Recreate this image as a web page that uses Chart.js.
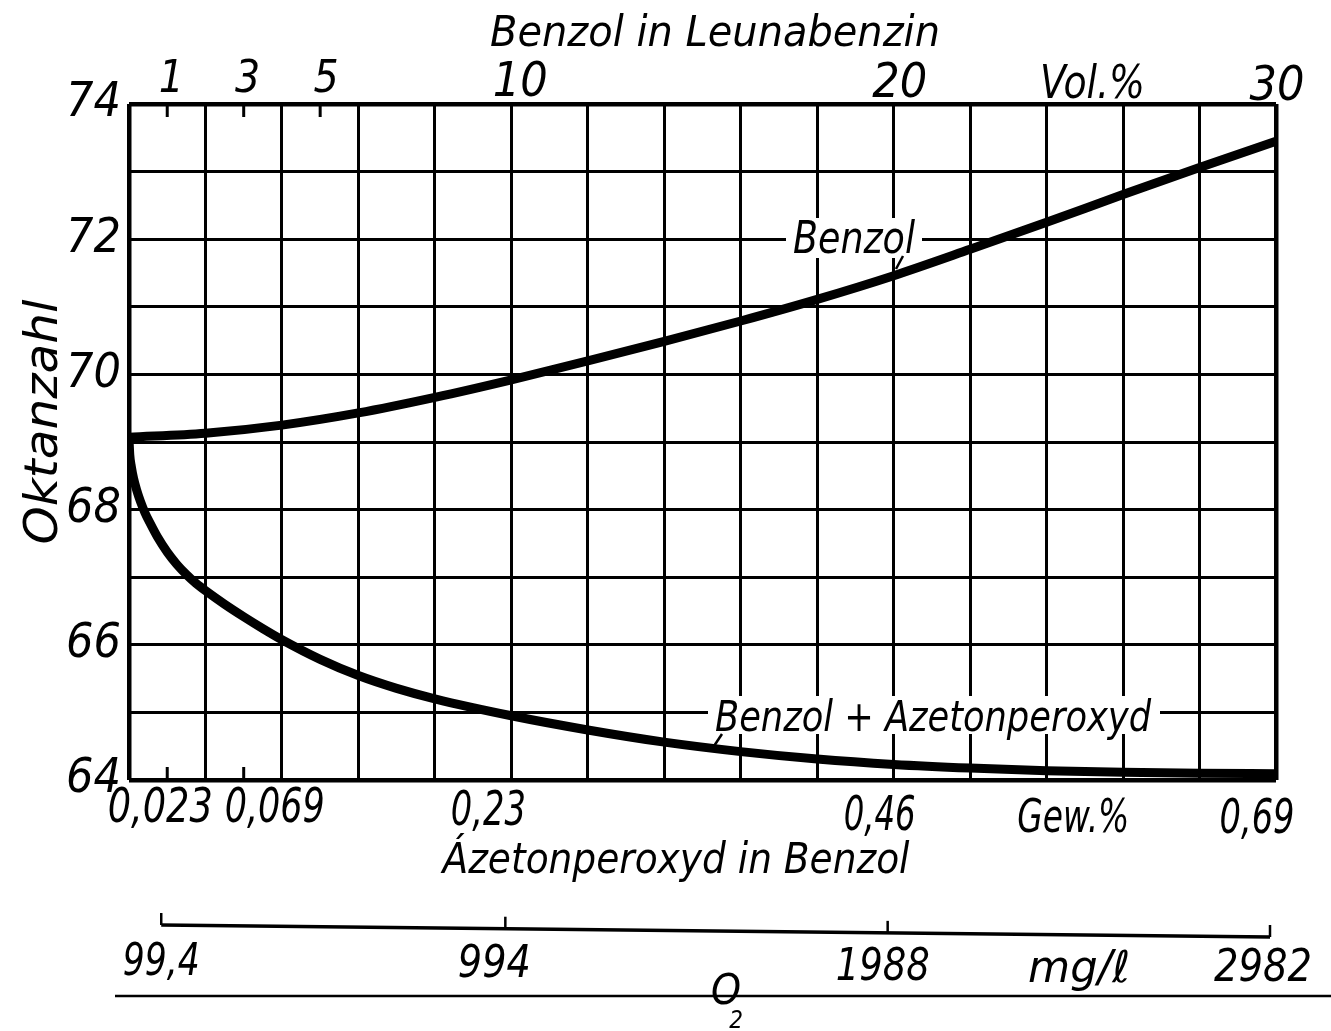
<!DOCTYPE html>
<html>
<head>
<meta charset="utf-8">
<script src="https://cdn.jsdelivr.net/npm/chart.js@4.4.1/dist/chart.umd.min.js"></script>
<style>
html,body{margin:0;padding:0;background:#fff;}
canvas{display:block;}
</style>
</head>
<body>
<canvas id="c" width="1331" height="1031"></canvas>
<script>
// ---------------- DATA ----------------
const benzolX = [0, 2, 4, 6, 8, 10, 12, 14, 16, 18, 20, 22, 24, 26, 28, 30];
const benzolY = [69.07, 69.13, 69.25, 69.43, 69.66, 69.92, 70.2, 70.49, 70.79, 71.11, 71.46, 71.85, 72.25, 72.66, 73.06, 73.45];

const peroxydX = [0, 0.02, 0.06, 0.12, 0.2, 0.3, 0.42, 0.56, 0.75, 1, 1.25, 1.5, 1.75, 2, 2.5, 3, 3.5, 4, 5, 6, 7, 8, 10, 12, 14, 16, 18, 20, 22, 24, 26, 28, 30];
const peroxydY = [69.05, 68.81, 68.64, 68.46, 68.29, 68.12, 67.95, 67.79, 67.59, 67.37, 67.19, 67.04, 66.91, 66.8, 66.6, 66.415, 66.24, 66.075, 65.785, 65.545, 65.355, 65.2, 64.95, 64.74, 64.56, 64.42, 64.31, 64.23, 64.176, 64.138, 64.114, 64.1, 64.094];

const yTickValues = [64, 66, 68, 70, 72, 74];
const topTickValues = [1, 3, 5, 10, 20, 30];
const topTickLabels = ['1', '3', '5', '10', '20', '30'];
const topUnit = 'Vol.%';
const bottomTickValues = [1, 3, 10, 20, 30];
const bottomTickLabels = ['0,023', '0,069', '0,23', '0,46', '0,69'];
const bottomUnit = 'Gew.%';
const o2TickValues = [99.4, 994, 1988, 2982];
const o2TickLabels = ['99,4', '994', '1988', '2982'];
const o2Unit = 'mg/ℓ';
const o2PerVolPercent = 99.4;

const titleTop = 'Benzol in Leunabenzin';
const titleBottom = 'Ázetonperoxyd in Benzol';
const titleY = 'Oktanzahl';
const seriesNames = ['Benzol', 'Benzol + Azetonperoxyd'];

// ---------------- STYLE ----------------
const FONT = "'DejaVu Sans Condensed','Liberation Sans Narrow','DejaVu Sans',sans-serif";
const S = {
  top: { dx: [4, 4, 6, 9, 6, 1], base: [92, 92, 92, 96, 97, 100], size: [44, 44, 44, 48, 48, 48] },
  topUnit: { v: 25.2, base: 98, size: 46, w: 105 },
  bottom: { dx: [-7, 31, -23, -14, -19], base: [822, 822, 825, 830, 833], w: [105, 100, 75, 72, 75], size: 48 },
  bottomUnit: { v: 24.7, base: 832, size: 46, w: 112 },
  o2: { dx: [-6, -17, -11, -13], base: [975, 977, 980, 981], w: [77, 73, 94, 98], size: 44, lineShift: -6, yL: 925, yR: 937, tick: 12 },
  o2Unit: { v: 2470, base: 982, size: 44, w: 102 },
  titleTop: { cx: 715, base: 46, size: 42, w: 450 },
  titleBottom: { cx: 676, base: 873, size: 42, w: 467 },
  titleY: { x: 57, cy: 422, size: 46, w: 245 },
  labels: [
    { cx: 854, base: 253, size: 44, w: 122, box: [786, 218, 922, 258], lead: [903, 256, 896, 269] },
    { cx: 933, base: 731, size: 42, w: 436, box: [708, 696, 1160, 734], lead: [722, 734, 714, 746] }
  ]
};

function drawText(ctx, text, cx, base, size, w) {
  ctx.save();
  ctx.font = 'italic ' + size + 'px ' + FONT;
  ctx.fillStyle = '#000';
  ctx.textAlign = 'center';
  ctx.textBaseline = 'alphabetic';
  const m = ctx.measureText(text).width;
  const sx = w ? w / m : 1;
  ctx.translate(cx, base);
  ctx.scale(sx, 1);
  ctx.fillText(text, 0, 0);
  ctx.restore();
}

const annot = {
  id: 'annot',
  beforeDatasetsDraw(chart) {
    const ctx = chart.ctx;
    ctx.save();
    ctx.fillStyle = '#fff';
    S.labels.forEach(l => {
      const b = l.box;
      ctx.fillRect(b[0], b[1], b[2] - b[0], b[3] - b[1]);
    });
    // small inner ticks (odd values that are not grid lines)
    const xs = chart.scales.x, a = chart.chartArea;
    ctx.strokeStyle = '#000';
    ctx.lineWidth = 3;
    topTickValues.forEach(v => {
      if (v % 2 !== 0) {
        const p = xs.getPixelForValue(v);
        ctx.beginPath(); ctx.moveTo(p, a.top); ctx.lineTo(p, a.top + 13); ctx.stroke();
      }
    });
    bottomTickValues.forEach(v => {
      if (v % 2 !== 0) {
        const p = xs.getPixelForValue(v);
        ctx.beginPath(); ctx.moveTo(p, a.bottom); ctx.lineTo(p, a.bottom - 13); ctx.stroke();
      }
    });
    ctx.restore();
  },
  afterDraw(chart) {
    const ctx = chart.ctx;
    const xs = chart.scales.x;
    // top tick labels
    topTickValues.forEach((v, i) => {
      drawText(ctx, topTickLabels[i], xs.getPixelForValue(v) + S.top.dx[i], S.top.base[i], S.top.size[i], 0);
    });
    drawText(ctx, topUnit, xs.getPixelForValue(S.topUnit.v), S.topUnit.base, S.topUnit.size, S.topUnit.w);
    // bottom tick labels
    bottomTickValues.forEach((v, i) => {
      drawText(ctx, bottomTickLabels[i], xs.getPixelForValue(v) + S.bottom.dx[i], S.bottom.base[i], S.bottom.size, S.bottom.w[i]);
    });
    drawText(ctx, bottomUnit, xs.getPixelForValue(S.bottomUnit.v), S.bottomUnit.base, S.bottomUnit.size, S.bottomUnit.w);
    // titles
    drawText(ctx, titleTop, S.titleTop.cx, S.titleTop.base, S.titleTop.size, S.titleTop.w);
    drawText(ctx, titleBottom, S.titleBottom.cx, S.titleBottom.base, S.titleBottom.size, S.titleBottom.w);
    ctx.save();
    ctx.translate(S.titleY.x, S.titleY.cy);
    ctx.rotate(-Math.PI / 2);
    drawText(ctx, titleY, 0, 0, S.titleY.size, S.titleY.w);
    ctx.restore();
    // curve labels
    S.labels.forEach((l, i) => {
      drawText(ctx, seriesNames[i], l.cx, l.base, l.size, l.w);
      ctx.save();
      ctx.strokeStyle = '#000'; ctx.lineWidth = 2.5;
      ctx.beginPath(); ctx.moveTo(l.lead[0], l.lead[1]); ctx.lineTo(l.lead[2], l.lead[3]); ctx.stroke();
      ctx.restore();
    });
    // O2 scale
    const o2px = v => xs.getPixelForValue(v / o2PerVolPercent) + S.o2.lineShift;
    const xL = o2px(o2TickValues[0]), xR = o2px(o2TickValues[o2TickValues.length - 1]);
    const yAt = x => S.o2.yL + (x - xL) * (S.o2.yR - S.o2.yL) / (xR - xL);
    ctx.save();
    ctx.strokeStyle = '#000';
    ctx.lineWidth = 3.5;
    ctx.beginPath(); ctx.moveTo(xL, yAt(xL)); ctx.lineTo(xR, yAt(xR)); ctx.stroke();
    ctx.lineWidth = 2.5;
    o2TickValues.forEach(v => {
      const p = o2px(v);
      ctx.beginPath(); ctx.moveTo(p, yAt(p)); ctx.lineTo(p, yAt(p) - S.o2.tick); ctx.stroke();
    });
    // rule under o2 labels
    ctx.lineWidth = 2.5;
    ctx.beginPath(); ctx.moveTo(115, 996); ctx.lineTo(1331, 996); ctx.stroke();
    ctx.restore();
    o2TickValues.forEach((v, i) => {
      drawText(ctx, o2TickLabels[i], xs.getPixelForValue(v / o2PerVolPercent) + S.o2.dx[i], S.o2.base[i], S.o2.size, S.o2.w[i]);
    });
    drawText(ctx, o2Unit, xs.getPixelForValue(S.o2Unit.v / o2PerVolPercent), S.o2Unit.base, S.o2Unit.size, S.o2Unit.w);
    // O2 symbol
    drawText(ctx, 'O', 726, 1004, 42, 30);
    drawText(ctx, '2', 736, 1028, 24, 0);
  }
};

const edgeWidth = (edges) => (c) => (c.tick && edges.includes(c.tick.value)) ? 4.5 : 3;

new Chart(document.getElementById('c'), {
  type: 'line',
  data: {
    datasets: [
      {
        label: seriesNames[0],
        data: benzolX.map((x, i) => ({ x: x, y: benzolY[i] })),
        borderColor: '#000', borderWidth: 9, pointRadius: 0, fill: false,
        cubicInterpolationMode: 'monotone'
      },
      {
        label: seriesNames[1],
        data: peroxydX.map((x, i) => ({ x: x, y: peroxydY[i] })),
        borderColor: '#000', borderWidth: 9, pointRadius: 0, fill: false,
        cubicInterpolationMode: 'monotone'
      }
    ]
  },
  options: {
    responsive: false,
    animation: false,
    devicePixelRatio: 1,
    layout: { padding: { top: 104, right: 55, left: 0, bottom: 0 } },
    plugins: { legend: { display: false }, tooltip: { enabled: false } },
    scales: {
      x: {
        type: 'linear', position: 'bottom', min: 0, max: 30,
        ticks: { stepSize: 2, display: false },
        grid: { color: '#000', lineWidth: edgeWidth([0, 30]), drawTicks: false },
        border: { display: false },
        afterFit: s => { s.height = 251; }
      },
      y: {
        type: 'linear', position: 'left', min: 64, max: 74,
        ticks: {
          stepSize: 1, color: '#000', padding: 8,
          font: { family: FONT, size: 48, style: 'italic' },
          callback: v => yTickValues.includes(v) ? String(v) : ''
        },
        grid: { color: '#000', lineWidth: edgeWidth([64, 74]), drawTicks: false },
        border: { display: false },
        afterFit: s => { s.width = 129; }
      }
    }
  },
  plugins: [annot]
});
</script>
</body>
</html>
